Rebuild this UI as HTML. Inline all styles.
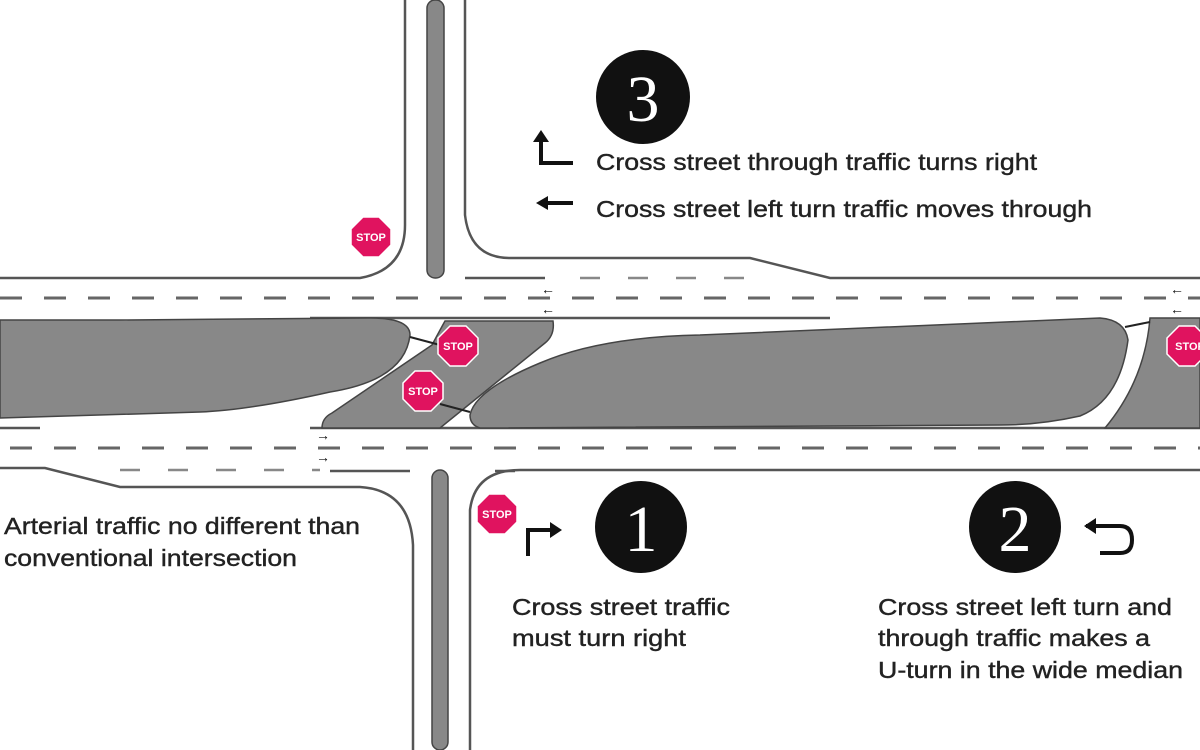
<!DOCTYPE html>
<html><head><meta charset="utf-8"><style>
body{margin:0;background:#fff;}
svg{display:block;}
text{font-family:"Liberation Sans",Arial,sans-serif;}
</style></head><body>
<svg width="1200" height="750" viewBox="0 0 1200 750">
<rect width="1200" height="750" fill="#fff"/>
<g fill="none" stroke="#555" stroke-width="2.5">
<path d="M405 0 V225 Q405 270 360 278 H0"/>
<path d="M465 0 V215 Q470 258 510 258 H750 L830 278 H1200"/>
<path d="M0 468 H45 L120 487 H360 Q410 490 413 545 V750"/>
<path d="M470 750 V510 Q475 470 520 470 H1200"/>
<path d="M0 428 H40"/>
<path d="M310 428 H1200"/>
<path d="M310 318 H830"/>
<path d="M465 278 H545"/>
<path d="M330 471 H410 M495 471 H515"/>
</g>
<g stroke="#666" stroke-width="3" stroke-dasharray="22 22">
<path d="M0 298 H1200"/>
<path d="M10 448 H1200"/>
</g>
<g stroke="#888" stroke-width="2.5" stroke-dasharray="20 28">
<path d="M580 278 H760"/>
<path d="M120 470 H320"/>
</g>
<g fill="#888" stroke="#444" stroke-width="1.5">
<rect x="427" y="0" width="17" height="278" rx="8"/>
<rect x="432" y="470" width="16" height="280" rx="8"/>
<path d="M0 320 H120 L370 318 Q410 318 410 335 Q405 380 330 392 Q250 410 200 412 Q80 416 0 418 Z"/>
<path d="M445 321 H553 Q555 335 545 343 L440 428 H322 Q322 418 332 413 L432 345 Q440 330 445 321 Z"/>
<path d="M470 415 Q475 390 540 363 Q600 337 700 335 L1100 318 Q1125 320 1128 340 Q1120 400 1080 416 Q1040 425 1000 425 L480 428 Q470 425 470 415 Z"/>
<path d="M1150 318 H1200 V428 H1105 Q1145 380 1150 318 Z"/>
</g>
<g stroke="#222" stroke-width="2">
<path d="M410 337 L440 345 M440 404 L470 412 M1125 327 L1150 322"/>
</g>
<defs>
<polygon id="oct" points="-8,-20 8,-20 20,-8 20,8 8,20 -8,20 -20,8 -20,-8" fill="#e0135f" stroke="#fff" stroke-width="1.5"/>
</defs>
<use href="#oct" x="371" y="237"/>
<use href="#oct" x="458" y="346"/>
<use href="#oct" x="423" y="391"/>
<use href="#oct" x="497" y="514"/>
<use href="#oct" x="1187" y="346"/>
<g fill="#fff" font-size="11" font-weight="bold" text-anchor="middle">
<text x="371" y="241">STOP</text>
<text x="458" y="350">STOP</text>
<text x="423" y="395">STOP</text>
<text x="497" y="518">STOP</text>
<text x="1190" y="350">STOP</text>
</g>
<g fill="#111">
<circle cx="643" cy="97" r="47"/>
<circle cx="641" cy="527" r="46"/>
<circle cx="1015" cy="527" r="46"/>
</g>
<g fill="#fff" font-size="66" text-anchor="middle">
<text x="643" y="121" style="font-family:'Liberation Serif',serif">3</text>
<text x="641" y="551" style="font-family:'Liberation Serif',serif">1</text>
<text x="1015" y="551" style="font-family:'Liberation Serif',serif">2</text>
</g>
<g fill="none" stroke="#111" stroke-width="4">
<path d="M573 163 H541 V140"/>
<path d="M573 203 H546"/>
<path d="M528 556 V530 H552"/>
<path d="M1086 526 H1120 Q1132 526 1132 540 Q1132 553 1120 553 H1100"/>
</g>
<g fill="#111">
<path d="M533 142 L541 130 L549 142 Z"/>
<path d="M548 196 L536 203 L548 210 Z"/>
<path d="M550 522 L562 530 L550 538 Z"/>
<path d="M1096 518 L1084 526 L1096 534 Z"/>
</g>
<g fill="#222" font-size="23" stroke="#222" stroke-width="0.4" lengthAdjust="spacingAndGlyphs">
<text x="596" y="170" textLength="441" lengthAdjust="spacingAndGlyphs">Cross street through traffic turns right</text>
<text x="596" y="217" textLength="496" lengthAdjust="spacingAndGlyphs">Cross street left turn traffic moves through</text>
<text x="4" y="534" textLength="356" lengthAdjust="spacingAndGlyphs">Arterial traffic no different than</text>
<text x="4" y="566" textLength="293" lengthAdjust="spacingAndGlyphs">conventional intersection</text>
<text x="512" y="615" textLength="218" lengthAdjust="spacingAndGlyphs">Cross street traffic</text>
<text x="512" y="646" textLength="174" lengthAdjust="spacingAndGlyphs">must turn right</text>
<text x="878" y="615" textLength="294" lengthAdjust="spacingAndGlyphs">Cross street left turn and</text>
<text x="878" y="646" textLength="272" lengthAdjust="spacingAndGlyphs">through traffic makes a</text>
<text x="878" y="678" textLength="305" lengthAdjust="spacingAndGlyphs">U-turn in the wide median</text>
</g>
<g fill="#111" font-size="14" font-weight="bold">
<text x="541" y="294">←</text><text x="541" y="314">←</text>
<text x="1170" y="294">←</text><text x="1170" y="314">←</text>
<text x="316" y="440">→</text><text x="316" y="462">→</text>
</g>
</svg>
</body></html>
